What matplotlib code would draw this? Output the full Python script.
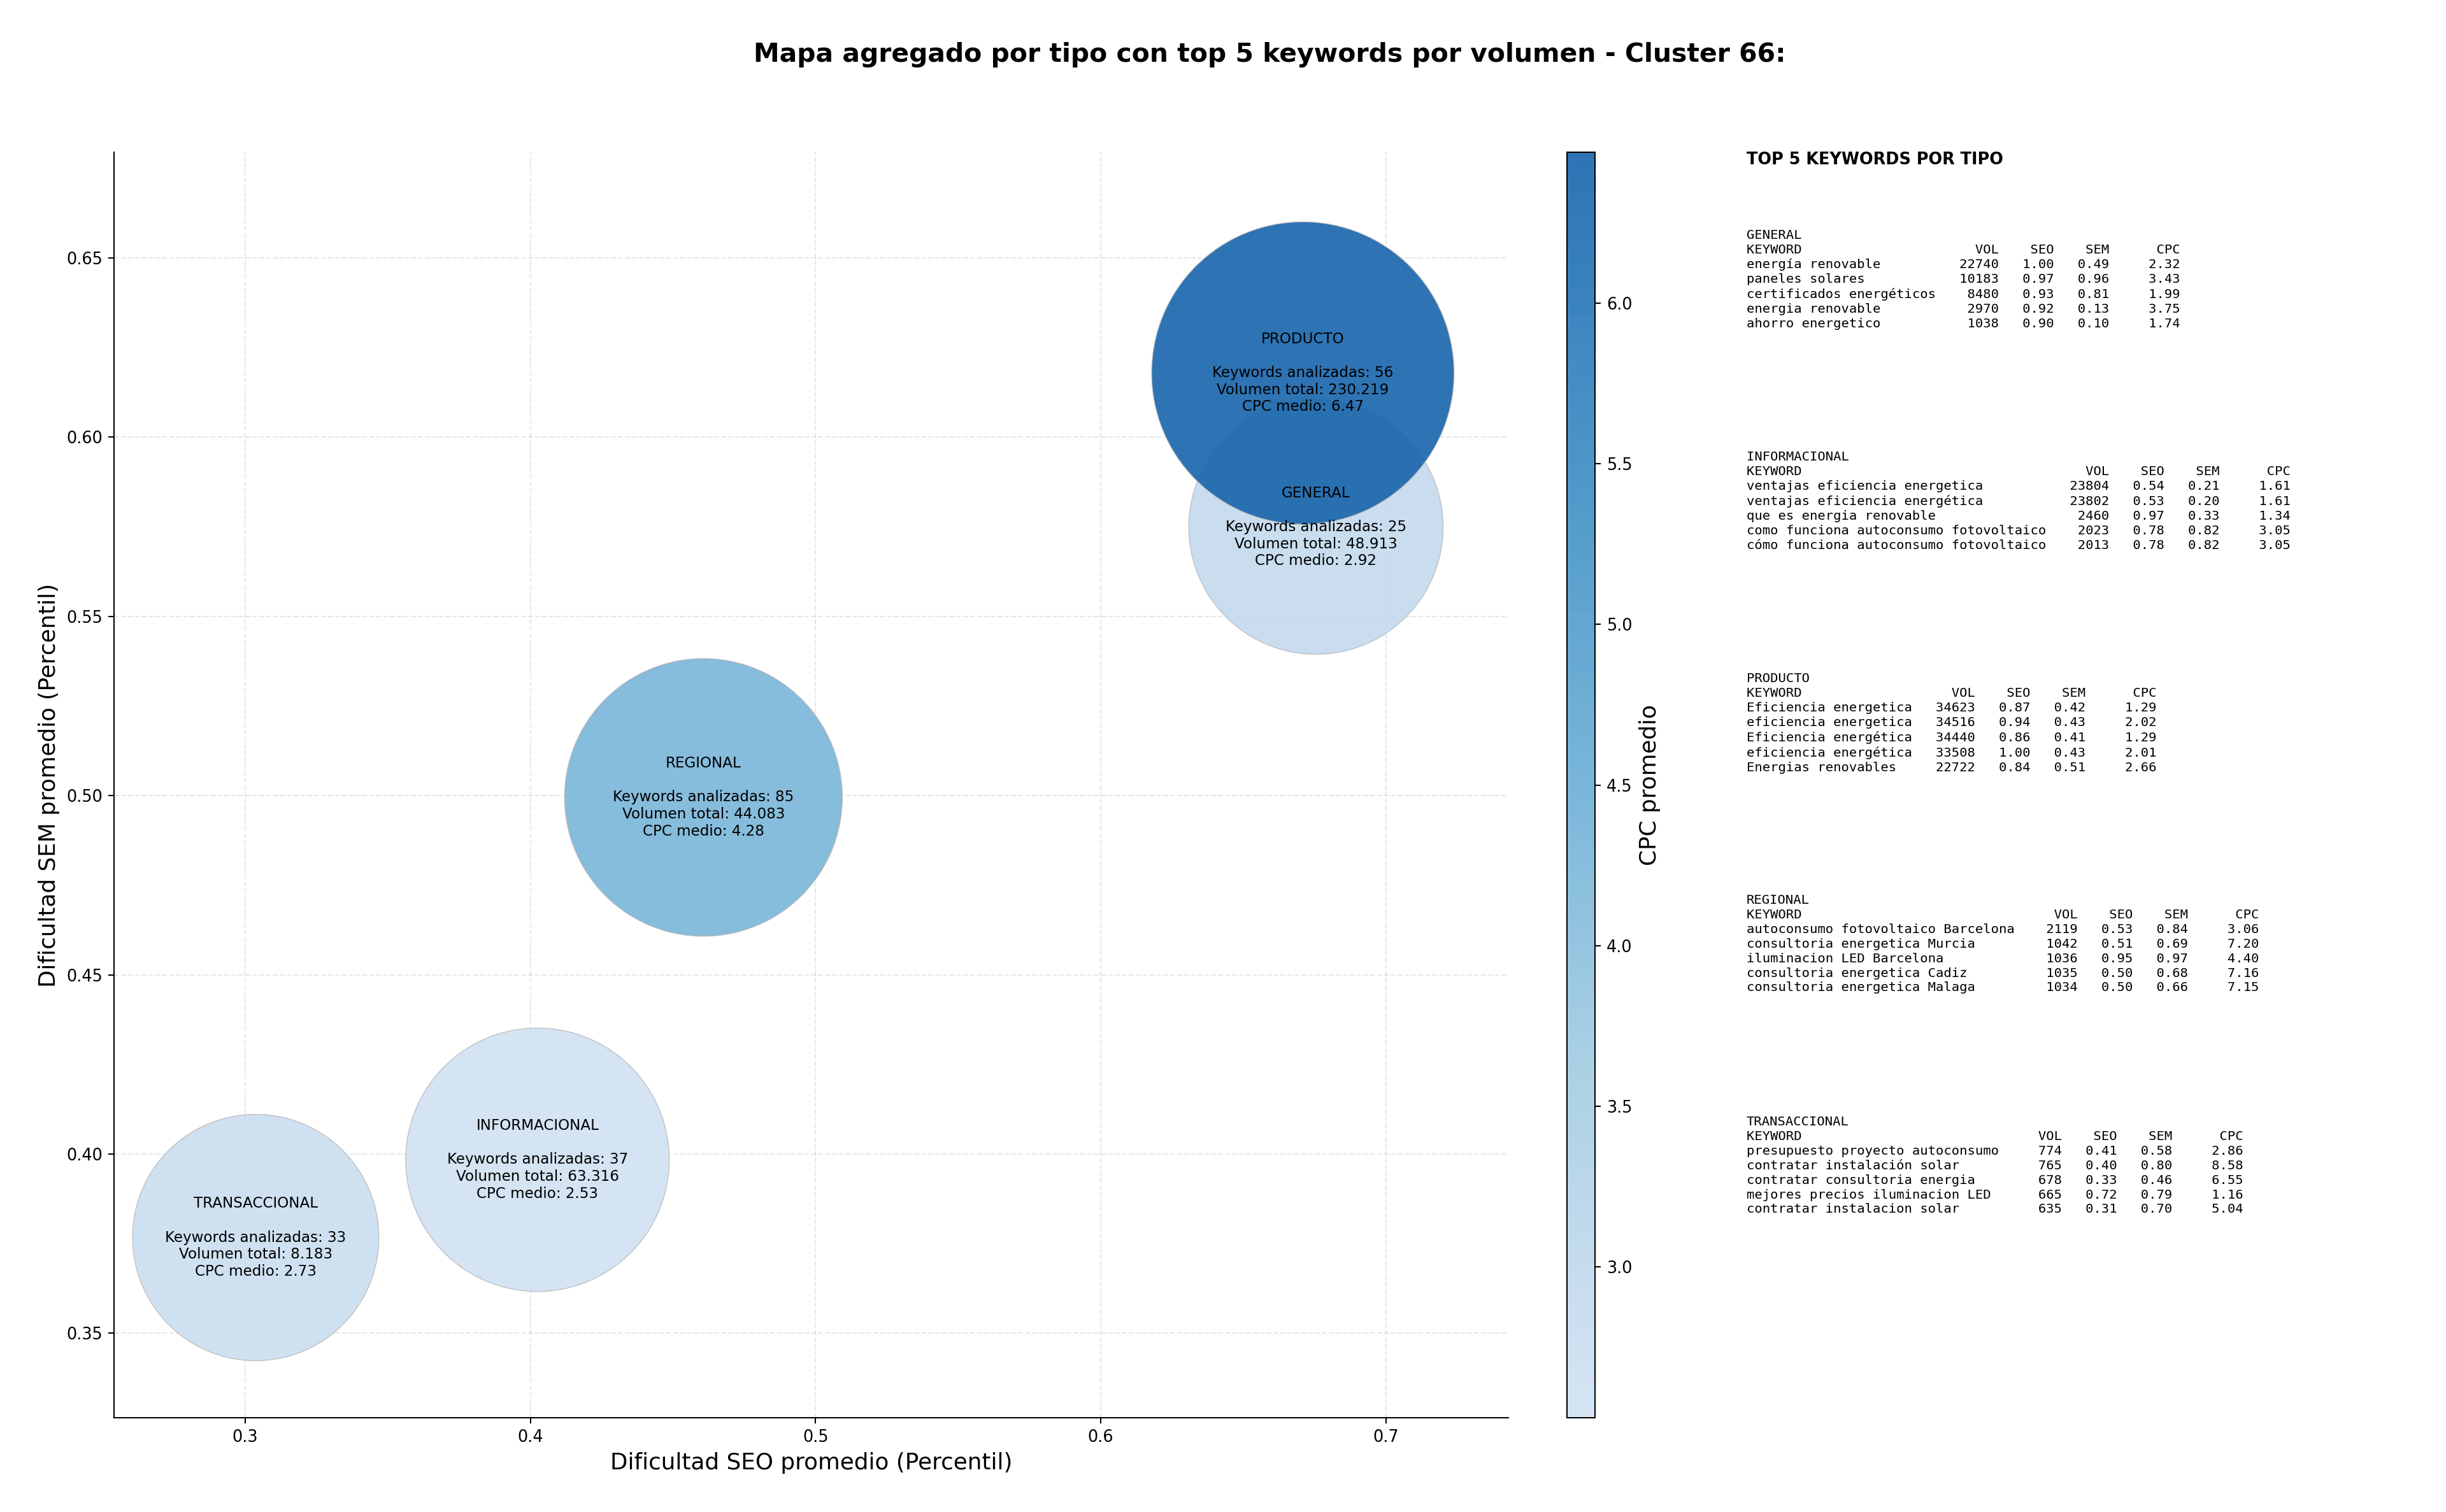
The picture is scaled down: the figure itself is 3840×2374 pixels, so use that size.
import matplotlib
matplotlib.use("Agg")
import matplotlib.pyplot as plt
import numpy as np
from matplotlib.colors import ListedColormap

# Aggregated data per keyword type
tipos = ["GENERAL", "INFORMACIONAL", "PRODUCTO", "REGIONAL", "TRANSACCIONAL"]
seo_prom = [0.6755, 0.4025, 0.6709, 0.4607, 0.3037]
sem_prom = [0.5749, 0.3984, 0.6179, 0.4995, 0.3767]
n_keywords = [25, 37, 56, 85, 33]
vol_total = [48913, 63316, 230219, 44083, 8183]
cpc_medio = [2.92, 2.53, 6.47, 4.28, 2.73]

# bubble areas (pt^2)
bubble_size = [24400, 26200, 34500, 29100, 22900]

# Top 5 keywords per type: (keyword, vol, seo, sem, cpc)
top_general = [
    ("energía renovable", 22740, 1.00, 0.49, 2.32),
    ("paneles solares", 10183, 0.97, 0.96, 3.43),
    ("certificados energéticos", 8480, 0.93, 0.81, 1.99),
    ("energia renovable", 2970, 0.92, 0.13, 3.75),
    ("ahorro energetico", 1038, 0.90, 0.10, 1.74),
]
top_informacional = [
    ("ventajas eficiencia energetica", 23804, 0.54, 0.21, 1.61),
    ("ventajas eficiencia energética", 23802, 0.53, 0.20, 1.61),
    ("que es energia renovable", 2460, 0.97, 0.33, 1.34),
    ("como funciona autoconsumo fotovoltaico", 2023, 0.78, 0.82, 3.05),
    ("cómo funciona autoconsumo fotovoltaico", 2013, 0.78, 0.82, 3.05),
]
top_producto = [
    ("Eficiencia energetica", 34623, 0.87, 0.42, 1.29),
    ("eficiencia energetica", 34516, 0.94, 0.43, 2.02),
    ("Eficiencia energética", 34440, 0.86, 0.41, 1.29),
    ("eficiencia energética", 33508, 1.00, 0.43, 2.01),
    ("Energias renovables", 22722, 0.84, 0.51, 2.66),
]
top_regional = [
    ("autoconsumo fotovoltaico Barcelona", 2119, 0.53, 0.84, 3.06),
    ("consultoria energetica Murcia", 1042, 0.51, 0.69, 7.20),
    ("iluminacion LED Barcelona", 1036, 0.95, 0.97, 4.40),
    ("consultoria energetica Cadiz", 1035, 0.50, 0.68, 7.16),
    ("consultoria energetica Malaga", 1034, 0.50, 0.66, 7.15),
]
top_transaccional = [
    ("presupuesto proyecto autoconsumo", 774, 0.41, 0.58, 2.86),
    ("contratar instalación solar", 765, 0.40, 0.80, 8.58),
    ("contratar consultoria energia", 678, 0.33, 0.46, 6.55),
    ("mejores precios iluminacion LED", 665, 0.72, 0.79, 1.16),
    ("contratar instalacion solar", 635, 0.31, 0.70, 5.04),
]
top_por_tipo = [top_general, top_informacional, top_producto, top_regional, top_transaccional]

DPI = 184
fig = plt.figure(figsize=(3840 / DPI, 2374 / DPI), dpi=DPI)

ax = fig.add_axes([0.0466, 0.0623, 0.5701, 0.8370])
cax = fig.add_axes([0.6406, 0.0623, 0.0115, 0.8370])

cmap = ListedColormap(plt.cm.Blues(np.linspace(0.2, 0.8, 256)))

sc = ax.scatter(seo_prom, sem_prom, s=bubble_size, c=cpc_medio, cmap=cmap,
                vmin=min(cpc_medio), vmax=max(cpc_medio), alpha=0.9,
                edgecolors="#b8b8b8", linewidths=0.5, zorder=2)

for t, x, y, n, v, c in zip(tipos, seo_prom, sem_prom, n_keywords, vol_total, cpc_medio):
    vol_txt = f"{v:,}".replace(",", ".")
    label = f"{t}\n\nKeywords analizadas: {n}\nVolumen total: {vol_txt}\nCPC medio: {c:.2f}"
    ax.text(x, y, label, ha="center", va="center", multialignment="center",
            fontsize=9, zorder=3)

ax.set_xlim(0.254, 0.743)
ax.set_ylim(0.3264, 0.6795)
ax.set_xticks([0.3, 0.4, 0.5, 0.6, 0.7])
ax.set_xticklabels(["0.3", "0.4", "0.5", "0.6", "0.7"])
ax.tick_params(labelsize=10)
ax.grid(True, linestyle="--", alpha=0.3, zorder=0)
ax.set_axisbelow(True)
ax.spines["top"].set_visible(False)
ax.spines["right"].set_visible(False)
ax.set_xlabel("Dificultad SEO promedio (Percentil)", fontsize=14)
ax.set_ylabel("Dificultad SEM promedio (Percentil)", fontsize=14)

cbar = fig.colorbar(sc, cax=cax)
cbar.set_label("CPC promedio", fontsize=14)
cbar.ax.tick_params(labelsize=10)

fig.text(0.519, 1 - 97 / 2374, "Mapa agregado por tipo con top 5 keywords por volumen - Cluster 66:",
         ha="center", va="baseline", fontsize=16, fontweight="bold")

# Right-hand table of top keywords
x_txt = 2742 / 3840
fig.text(x_txt, 1 - 238 / 2374, "TOP 5 KEYWORDS POR TIPO", fontsize=10,
         fontweight="bold", va="top", ha="left")

y0 = 1 - 360 / 2374
step = 348 / 2374
for i, (t, rows) in enumerate(zip(tipos, top_por_tipo)):
    w = max(len(r[0]) for r in rows)
    lines = [t, "KEYWORD".ljust(w) + f"{'VOL':>8}{'SEO':>7}{'SEM':>7}{'CPC':>9}"]
    for kw, v, seo, sem, cpc in rows:
        lines.append(kw.ljust(w) + f"{v:>8}{seo:>7.2f}{sem:>7.2f}{cpc:>9.2f}")
    fig.text(x_txt, y0 - i * step, "\n".join(lines), family="DejaVu Sans Mono",
             fontsize=8, va="top", ha="left", linespacing=1.26)

fig.savefig("out.png", dpi=DPI)
